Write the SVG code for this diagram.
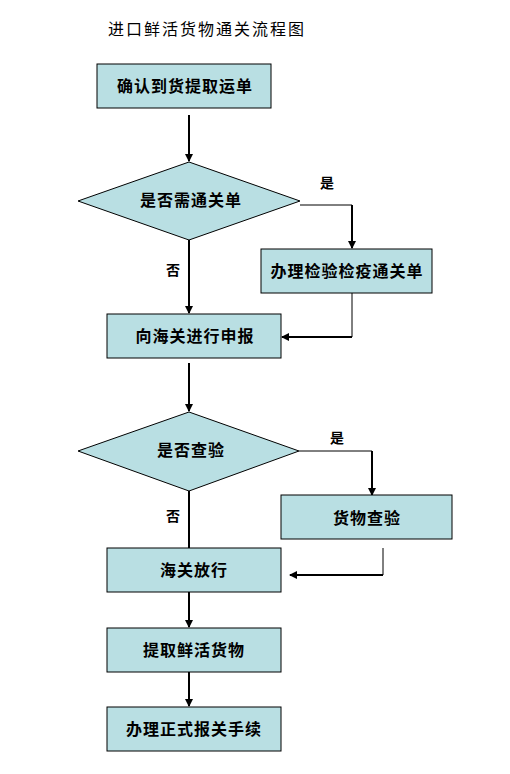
<svg xmlns="http://www.w3.org/2000/svg" width="510" height="774" viewBox="0 0 510 774">
<style>
.box{fill:#B9DFE3;stroke:#000;stroke-width:1}
.lbl{font-family:"Noto Sans CJK SC","Noto Sans CJK JP",sans-serif;font-weight:bold;font-size:16px;letter-spacing:1px;text-anchor:middle;fill:#000}
.yn{font-family:"Noto Sans CJK SC","Noto Sans CJK JP",sans-serif;font-weight:bold;font-size:14px;text-anchor:middle;fill:#000}
.thick{fill:none;stroke:#000;stroke-width:2}
.thin{fill:none;stroke:#000;stroke-width:1}
</style>
<defs>
<marker id="ah" markerWidth="8" markerHeight="8" refX="7" refY="4" orient="auto" markerUnits="userSpaceOnUse">
<path d="M0,0 L8,4 L0,8 Z" fill="#000"/>
</marker>
</defs>
<rect width="510" height="774" fill="#fff"/>
<text x="108" y="35" font-family="Noto Sans CJK SC,sans-serif" font-size="16" textLength="196" lengthAdjust="spacing" fill="#000">进口鲜活货物通关流程图</text>
<g id="connectors">
<line class="thick" x1="189" y1="115" x2="189" y2="161" marker-end="url(#ah)"/>
<line class="thick" x1="189" y1="240" x2="189" y2="313" marker-end="url(#ah)"/>
<polyline class="thin" points="300,205 352,205"/>
<line class="thick" x1="352" y1="205" x2="352" y2="248" marker-end="url(#ah)"/>
<line class="thin" x1="352" y1="293" x2="352" y2="337"/>
<line class="thick" x1="352" y1="337" x2="282" y2="337" marker-end="url(#ah)"/>
<line class="thick" x1="189" y1="363" x2="189" y2="411" marker-end="url(#ah)"/>
<line class="thin" x1="299" y1="451" x2="372" y2="451"/>
<line class="thick" x1="372" y1="451" x2="372" y2="495" marker-end="url(#ah)"/>
<line class="thick" x1="189" y1="491" x2="189" y2="548"/>
<line class="thin" x1="383" y1="548" x2="383" y2="575"/>
<line class="thick" x1="383" y1="575" x2="290" y2="575" marker-end="url(#ah)"/>
<line class="thick" x1="189" y1="592" x2="189" y2="627" marker-end="url(#ah)"/>
<line class="thick" x1="189" y1="672" x2="189" y2="706" marker-end="url(#ah)"/>
</g>
<g id="n1"><rect class="box" x="97" y="64" width="174" height="44"/><text class="lbl" x="185" y="92">确认到货提取运单</text></g>
<g id="d1"><polygon class="box" points="189,162 300,201 189,240 78,201"/><text class="lbl" x="191" y="206">是否需通关单</text></g>
<g id="n2"><rect class="box" x="261" y="249" width="171" height="44"/><text class="lbl" x="347" y="277">办理检验检疫通关单</text></g>
<g id="n3"><rect class="box" x="107" y="314" width="174" height="44"/><text class="lbl" x="195" y="342">向海关进行申报</text></g>
<g id="d2"><polygon class="box" points="189,412 299,451 189,491 78,451"/><text class="lbl" x="191" y="456">是否查验</text></g>
<g id="n4"><rect class="box" x="281" y="495" width="171" height="44"/><text class="lbl" x="367" y="524">货物查验</text></g>
<g id="n5"><rect class="box" x="107" y="548" width="174" height="44"/><text class="lbl" x="194" y="576">海关放行</text></g>
<g id="n6"><rect class="box" x="107" y="628" width="174" height="44"/><text class="lbl" x="194" y="656">提取鲜活货物</text></g>
<g id="n7"><rect class="box" x="107" y="707" width="174" height="44"/><text class="lbl" x="194" y="735">办理正式报关手续</text></g>
<g id="labels">
<text class="yn" x="327" y="188">是</text>
<text class="yn" x="173" y="275">否</text>
<text class="yn" x="337" y="443">是</text>
<text class="yn" x="173" y="521">否</text>
</g>
</svg>
